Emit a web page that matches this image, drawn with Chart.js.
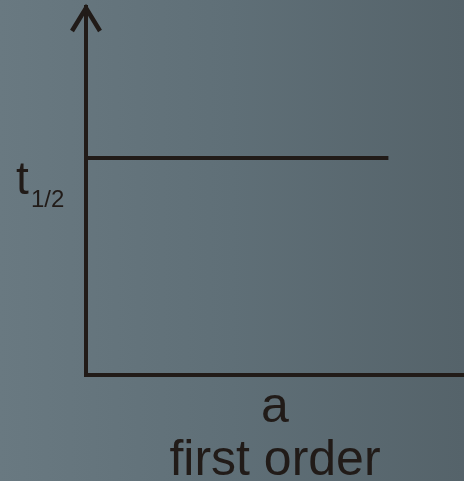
<!DOCTYPE html>
<html>
<head>
<meta charset="utf-8">
<script src="https://cdn.jsdelivr.net/npm/chart.js@4/dist/chart.umd.min.js"></script>
<style>
  html, body { margin: 0; padding: 0; background: #5f6f77; }
  #wrap { width: 464px; height: 481px; position: relative; }
</style>
</head>
<body>
<div id="wrap"><canvas id="c" width="464" height="481"></canvas></div>
<script>
// Data
const concentration = [0, 0.8];          // x values (a), start and end of the line
const halfLife = [0.59, 0.59];           // t1/2 stays constant for first order
const xTitle = ['a', 'first order'];
const yLabelMain = 't';
const yLabelSub = '1/2';

const INK = '#211b18';

const bgPlugin = {
  id: 'bg',
  beforeDraw(chart) {
    const ctx = chart.ctx;
    const g = ctx.createLinearGradient(0, 0, chart.width, 0);
    g.addColorStop(0, '#697981');
    g.addColorStop(0.5, '#5f6f77');
    g.addColorStop(1, '#55636a');
    ctx.save();
    ctx.fillStyle = g;
    ctx.fillRect(0, 0, chart.width, chart.height);
    ctx.restore();
  }
};

const decoPlugin = {
  id: 'deco',
  afterDraw(chart) {
    const ctx = chart.ctx;
    const ys = chart.scales.y;
    const xs = chart.scales.x;
    const ax = xs.left;
    const top = ys.top;
    ctx.save();
    // arrow head on y axis
    ctx.strokeStyle = INK;
    ctx.lineWidth = 4.5;
    ctx.lineCap = 'butt';
    ctx.lineJoin = 'miter';
    ctx.beginPath();
    ctx.moveTo(ax - 14, top + 24);
    ctx.lineTo(ax, top + 1);
    ctx.lineTo(ax + 14, top + 24);
    ctx.stroke();
    // y label t1/2
    const yv = ys.getPixelForValue(halfLife[0]);
    ctx.fillStyle = INK;
    ctx.textBaseline = 'alphabetic';
    ctx.textAlign = 'left';
    ctx.font = '46px "Liberation Sans", Arial, sans-serif';
    ctx.fillText(yLabelMain, ax - 70, yv + 36);
    ctx.font = '24px "Liberation Sans", Arial, sans-serif';
    ctx.fillText(yLabelSub, ax - 55, yv + 49);
    ctx.restore();
  }
};

new Chart(document.getElementById('c'), {
  type: 'line',
  data: {
    datasets: [{
      data: concentration.map((x, i) => ({ x: x, y: halfLife[i] })),
      borderColor: INK,
      borderWidth: 4,
      pointRadius: 0,
      fill: false,
      tension: 0
    }]
  },
  options: {
    responsive: false,
    animation: false,
    events: [],
    layout: { padding: { left: 86, top: 7, right: 0, bottom: 0 } },
    plugins: { legend: { display: false }, tooltip: { enabled: false } },
    scales: {
      x: {
        type: 'linear', min: 0, max: 1,
        ticks: { display: false },
        grid: { display: false, drawTicks: false, tickLength: 0 },
        border: { display: true, color: INK, width: 4 },
        title: {
          display: true,
          text: xTitle,
          color: INK,
          font: { family: '"Liberation Sans", Arial, sans-serif', size: 50, lineHeight: 1.06 },
          padding: { top: 7, bottom: -7 }
        }
      },
      y: {
        type: 'linear', min: 0, max: 1,
        ticks: { display: false },
        grid: { display: false, drawTicks: false, tickLength: 0 },
        border: { display: true, color: INK, width: 4 }
      }
    }
  },
  plugins: [bgPlugin, decoPlugin]
});
</script>
</body>
</html>
